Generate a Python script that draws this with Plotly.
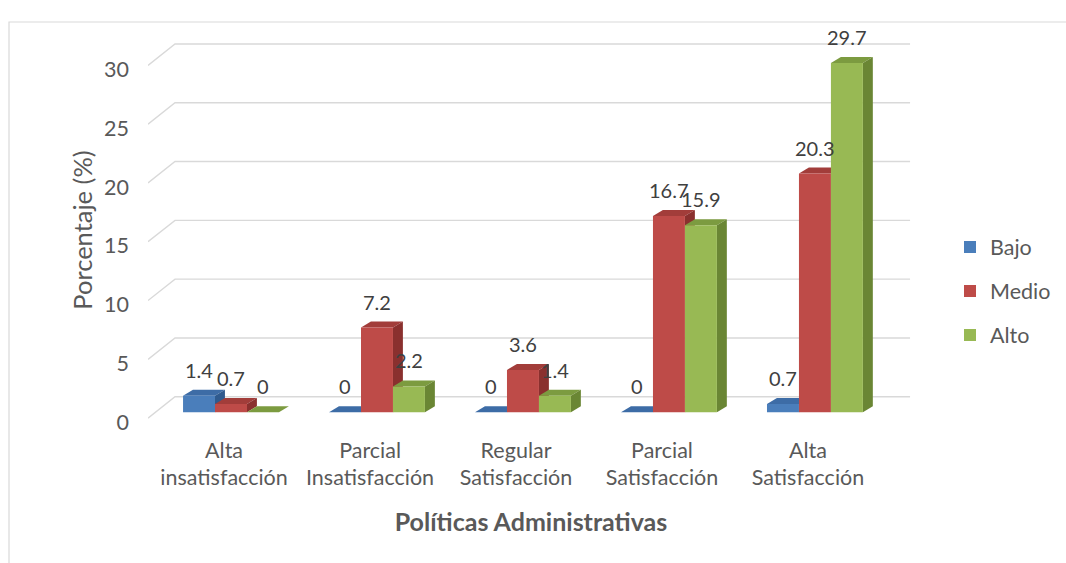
import plotly.graph_objects as go

# ---- data ----
categories = [
    "Alta<br>insatisfacción",
    "Parcial<br>Insatisfacción",
    "Regular<br>Satisfacción",
    "Parcial<br>Satisfacción",
    "Alta<br>Satisfacción",
]
bajo = [1.4, 0, 0, 0, 0.7]
medio = [0.7, 7.2, 3.6, 16.7, 20.3]
alto = [0, 2.2, 1.4, 15.9, 29.7]
y_ticks = [0, 5, 10, 15, 20, 25, 30]
series_names = ["Bajo", "Medio", "Alto"]

# ---- styling ----
FONT = "Lato"
TXT = "#595959"
LBL = "#404040"
GRID = "#D9D9D9"
face_colors = {
    "Bajo": ("#4A7EBB", "#3D6CA6", "#2F5A8E"),   # front, top, side
    "Medio": ("#BE4B48", "#A23D3A", "#8A302E"),
    "Alto": ("#98B954", "#7C9B40", "#6A8634"),
}

W, H = 1066, 563
L, R, T, B = 148, 152, 36, 139.25
X_RANGE = [-0.521, 4.726]
Y_RANGE = [-1, 32]

BAR_W = 0.219          # width of one bar, category units
FIRST_LEFT = -0.281    # left edge of first bar relative to category centre
DX, DY = 0.068, 0.51   # 3-D depth offset of the bar tops/sides
WALL_DY = 1.32         # back-wall gridline lift
FRONT_DY = -0.5        # front edge of the slanted gridline

fig = go.Figure()
shapes = []

# back-wall gridlines with the slanted floor/side edge
for v in y_ticks:
    shapes.append(dict(
        type="path", xref="x", yref="y", layer="below",
        path=f"M{X_RANGE[0]},{v + FRONT_DY} L-0.336,{v + WALL_DY} L4.699,{v + WALL_DY}",
        line=dict(color=GRID, width=1.4),
    ))

annotations = []
series_values = [bajo, medio, alto]
for k, (name, vals) in enumerate(zip(series_names, series_values)):
    front, top, side = face_colors[name]
    xs = []
    for i, v in enumerate(vals):
        x0 = i + FIRST_LEFT + k * BAR_W
        x1 = x0 + BAR_W
        xs.append((x0 + x1) / 2)
        # top face
        shapes.append(dict(
            type="path", xref="x", yref="y", layer="below",
            path=f"M{x0},{v} L{x0 + DX},{v + DY} L{x1 + DX},{v + DY} L{x1},{v} Z",
            fillcolor=top, line=dict(width=0),
        ))
        # right side face
        shapes.append(dict(
            type="path", xref="x", yref="y", layer="below",
            path=f"M{x1},0 L{x1 + DX},{DY} L{x1 + DX},{v + DY} L{x1},{v} Z",
            fillcolor=side, line=dict(width=0),
        ))
        annotations.append(dict(
            x=(x0 + x1) / 2, y=v, xref="x", yref="y",
            text=f"{v:g}", showarrow=False, yanchor="bottom", yshift=12,
            font=dict(family=FONT, size=20, color=LBL),
        ))
    fig.add_trace(go.Bar(
        name=name, x=xs, y=vals, width=BAR_W,
        marker=dict(color=front, line=dict(width=0)),
        legendgroup=name,
    ))

# chart frame
pw, ph = W - L - R, H - T - B
shapes.append(dict(
    type="rect", xref="paper", yref="paper", layer="below",
    x0=(9 - L) / pw, x1=(W + 5 - L) / pw,
    y0=-(H + 5 - T - ph) / ph, y1=1 + (T - 22) / ph,
    line=dict(color=GRID, width=1.2), fillcolor="rgba(0,0,0,0)",
))

fig.update_layout(
    width=W, height=H,
    margin=dict(l=L, r=R, t=T, b=B, pad=0),
    paper_bgcolor="white", plot_bgcolor="white",
    font=dict(family=FONT, size=21, color=TXT),
    shapes=shapes,
    annotations=annotations,
    barmode="overlay",
    showlegend=True,
    legend=dict(
        xref="container", yref="container",
        x=950 / W, y=1 - 291 / H, xanchor="left", yanchor="middle",
        traceorder="grouped", tracegroupgap=13,
        font=dict(family=FONT, size=21.5, color=TXT),
        bgcolor="rgba(0,0,0,0)",
    ),
    xaxis=dict(
        range=X_RANGE, tickmode="array",
        tickvals=list(range(len(categories))), ticktext=categories,
        showgrid=False, zeroline=False, showline=False, ticks="",
        ticklabelstandoff=11,
        tickfont=dict(family=FONT, size=21.5, color=TXT),
        title=dict(text="<b>Políticas Administrativas</b>", standoff=24,
                   font=dict(family=FONT, size=25, color=TXT)),
    ),
    yaxis=dict(
        range=Y_RANGE, tickmode="array", tickvals=y_ticks,
        showgrid=False, zeroline=False, showline=False, ticks="",
        ticklabelstandoff=18, ticklabelshift=10,
        tickfont=dict(family=FONT, size=21.5, color=TXT),
        title=dict(text="Porcentaje (%)\u00a0\u00a0\u00a0\u00a0", standoff=4,
                   font=dict(family=FONT, size=25.5, color=TXT)),
    ),
)

fig.write_html("out.html")
